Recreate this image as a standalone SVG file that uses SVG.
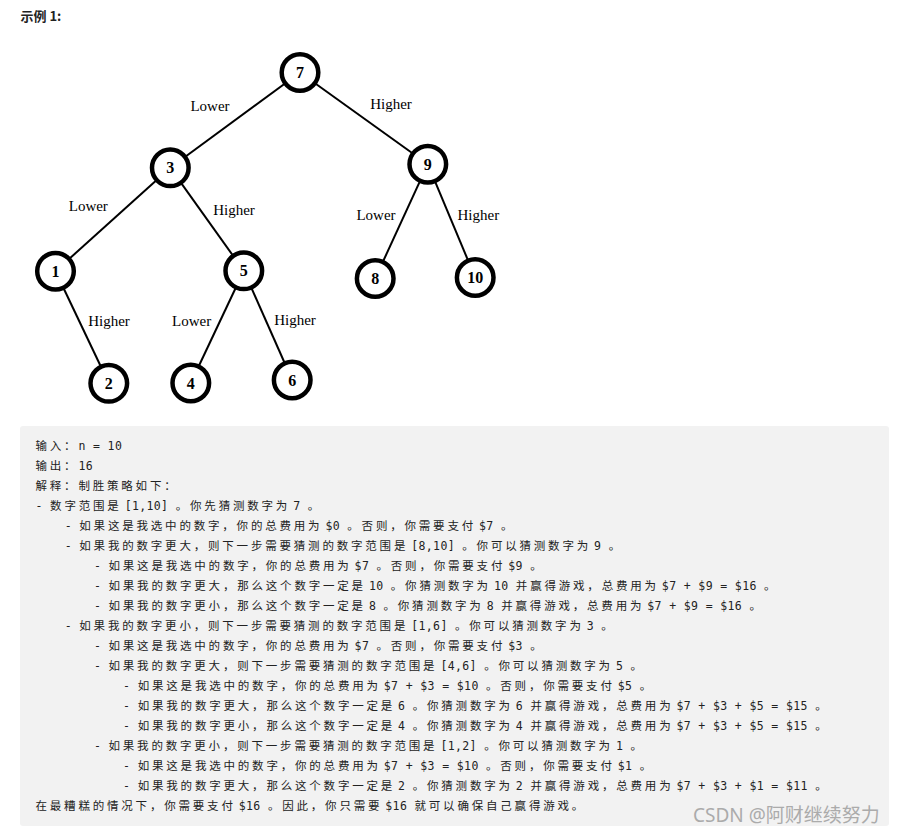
<svg xmlns="http://www.w3.org/2000/svg" width="898" height="833" viewBox="0 0 898 833">
<style>
.n circle{fill:#fff;stroke:#000;stroke-width:4.5}
.n text{font-family:"Liberation Serif",serif;font-weight:bold;font-size:16px;text-anchor:middle;fill:#000}
.e line{stroke:#000;stroke-width:2}
.lbl{font-family:"Liberation Serif",serif;font-size:15px;text-anchor:middle;fill:#000}
.t{font-family:"DejaVu Sans Mono","Noto Sans CJK SC",monospace;font-size:11.5px;letter-spacing:0.376px;fill:#222}
.c{letter-spacing:2.8px;word-spacing:-6.72px}
.title{font-family:"Noto Sans CJK SC","Noto Sans",sans-serif;font-weight:bold;font-size:13px;fill:#222}
.wm{font-family:"Noto Sans","Noto Sans CJK SC",sans-serif;font-size:19px;fill:#ababab}
</style>
<rect width="898" height="833" fill="#fff"/>
<text class="title" x="20.5" y="21">示例 1:</text>

<g id="connectors" class="e">
<line x1="300" y1="72.5" x2="170.3" y2="167.8"/>
<line x1="300" y1="72.5" x2="427.8" y2="164.2"/>
<line x1="170.3" y1="167.8" x2="55.5" y2="271.2"/>
<line x1="170.3" y1="167.8" x2="243.8" y2="270.8"/>
<line x1="427.8" y1="164.2" x2="375.2" y2="278.5"/>
<line x1="427.8" y1="164.2" x2="475.2" y2="277.5"/>
<line x1="55.5" y1="271.2" x2="108.8" y2="383.3"/>
<line x1="243.8" y1="270.8" x2="190.8" y2="383"/>
<line x1="243.8" y1="270.8" x2="292.2" y2="380"/>
<text class="lbl" x="210" y="111">Lower</text>
<text class="lbl" x="391" y="108.7">Higher</text>
<text class="lbl" x="88.3" y="211">Lower</text>
<text class="lbl" x="234" y="215.3">Higher</text>
<text class="lbl" x="376" y="220">Lower</text>
<text class="lbl" x="478.3" y="220">Higher</text>
<text class="lbl" x="109" y="326">Higher</text>
<text class="lbl" x="191.7" y="326">Lower</text>
<text class="lbl" x="295" y="325">Higher</text>
</g>

<g id="node-7" class="n"><circle cx="300" cy="72.5" r="18.3"/><text x="300" y="78">7</text></g>
<g id="node-3" class="n"><circle cx="170.3" cy="167.8" r="18.3"/><text x="170.3" y="173.3">3</text></g>
<g id="node-9" class="n"><circle cx="427.8" cy="164.2" r="18.3"/><text x="427.8" y="169.7">9</text></g>
<g id="node-1" class="n"><circle cx="55.5" cy="271.2" r="18.3"/><text x="55.5" y="276.7">1</text></g>
<g id="node-5" class="n"><circle cx="243.8" cy="270.8" r="18.3"/><text x="243.8" y="276.3">5</text></g>
<g id="node-8" class="n"><circle cx="375.2" cy="278.5" r="18.3"/><text x="375.2" y="284">8</text></g>
<g id="node-10" class="n"><circle cx="475.2" cy="277.5" r="18.3"/><text x="475.2" y="283">10</text></g>
<g id="node-2" class="n"><circle cx="108.8" cy="383.3" r="18.3"/><text x="108.8" y="388.8">2</text></g>
<g id="node-4" class="n"><circle cx="190.8" cy="383" r="18.3"/><text x="190.8" y="388.5">4</text></g>
<g id="node-6" class="n"><circle cx="292.2" cy="380" r="18.3"/><text x="292.2" y="385.5">6</text></g>

<g id="explanation">
<rect x="20" y="426" width="869" height="400" rx="3" fill="#f2f2f2"/>
<text class="t" x="35.5" y="450"><tspan class="c">输入：</tspan>n = 10</text>
<text class="t" x="35.5" y="470"><tspan class="c">输出：</tspan>16</text>
<text class="t" x="35.5" y="490"><tspan class="c">解释：制胜策略如下：</tspan></text>
<text class="t" x="35.5" y="510">- <tspan class="c">数字范围是 </tspan>[1,10] <tspan class="c">。你先猜测数字为 </tspan>7 <tspan class="c">。</tspan></text>
<text class="t" x="64.7" y="530">- <tspan class="c">如果这是我选中的数字，你的总费用为 </tspan>$0 <tspan class="c">。否则，你需要支付 </tspan>$7 <tspan class="c">。</tspan></text>
<text class="t" x="64.7" y="550">- <tspan class="c">如果我的数字更大，则下一步需要猜测的数字范围是 </tspan>[8,10] <tspan class="c">。你可以猜测数字为 </tspan>9 <tspan class="c">。</tspan></text>
<text class="t" x="93.9" y="570">- <tspan class="c">如果这是我选中的数字，你的总费用为 </tspan>$7 <tspan class="c">。否则，你需要支付 </tspan>$9 <tspan class="c">。</tspan></text>
<text class="t" x="93.9" y="590">- <tspan class="c">如果我的数字更大，那么这个数字一定是 </tspan>10 <tspan class="c">。你猜测数字为 </tspan>10 <tspan class="c">并赢得游戏，总费用为 </tspan>$7 + $9 = $16 <tspan class="c">。</tspan></text>
<text class="t" x="93.9" y="610">- <tspan class="c">如果我的数字更小，那么这个数字一定是 </tspan>8 <tspan class="c">。你猜测数字为 </tspan>8 <tspan class="c">并赢得游戏，总费用为 </tspan>$7 + $9 = $16 <tspan class="c">。</tspan></text>
<text class="t" x="64.7" y="630">- <tspan class="c">如果我的数字更小，则下一步需要猜测的数字范围是 </tspan>[1,6] <tspan class="c">。你可以猜测数字为 </tspan>3 <tspan class="c">。</tspan></text>
<text class="t" x="93.9" y="650">- <tspan class="c">如果这是我选中的数字，你的总费用为 </tspan>$7 <tspan class="c">。否则，你需要支付 </tspan>$3 <tspan class="c">。</tspan></text>
<text class="t" x="93.9" y="670">- <tspan class="c">如果我的数字更大，则下一步需要猜测的数字范围是 </tspan>[4,6] <tspan class="c">。你可以猜测数字为 </tspan>5 <tspan class="c">。</tspan></text>
<text class="t" x="123.1" y="690">- <tspan class="c">如果这是我选中的数字，你的总费用为 </tspan>$7 + $3 = $10 <tspan class="c">。否则，你需要支付 </tspan>$5 <tspan class="c">。</tspan></text>
<text class="t" x="123.1" y="710">- <tspan class="c">如果我的数字更大，那么这个数字一定是 </tspan>6 <tspan class="c">。你猜测数字为 </tspan>6 <tspan class="c">并赢得游戏，总费用为 </tspan>$7 + $3 + $5 = $15 <tspan class="c">。</tspan></text>
<text class="t" x="123.1" y="730">- <tspan class="c">如果我的数字更小，那么这个数字一定是 </tspan>4 <tspan class="c">。你猜测数字为 </tspan>4 <tspan class="c">并赢得游戏，总费用为 </tspan>$7 + $3 + $5 = $15 <tspan class="c">。</tspan></text>
<text class="t" x="93.9" y="750">- <tspan class="c">如果我的数字更小，则下一步需要猜测的数字范围是 </tspan>[1,2] <tspan class="c">。你可以猜测数字为 </tspan>1 <tspan class="c">。</tspan></text>
<text class="t" x="123.1" y="770">- <tspan class="c">如果这是我选中的数字，你的总费用为 </tspan>$7 + $3 = $10 <tspan class="c">。否则，你需要支付 </tspan>$1 <tspan class="c">。</tspan></text>
<text class="t" x="123.1" y="790">- <tspan class="c">如果我的数字更大，那么这个数字一定是 </tspan>2 <tspan class="c">。你猜测数字为 </tspan>2 <tspan class="c">并赢得游戏，总费用为 </tspan>$7 + $3 + $1 = $11 <tspan class="c">。</tspan></text>
<text class="t" x="35.5" y="810"><tspan class="c">在最糟糕的情况下，你需要支付 </tspan>$16 <tspan class="c">。因此，你只需要 </tspan>$16 <tspan class="c">就可以确保自己赢得游戏。</tspan></text>
</g>
<text class="wm" x="693" y="822">CSDN @阿财继续努力</text>
</svg>
